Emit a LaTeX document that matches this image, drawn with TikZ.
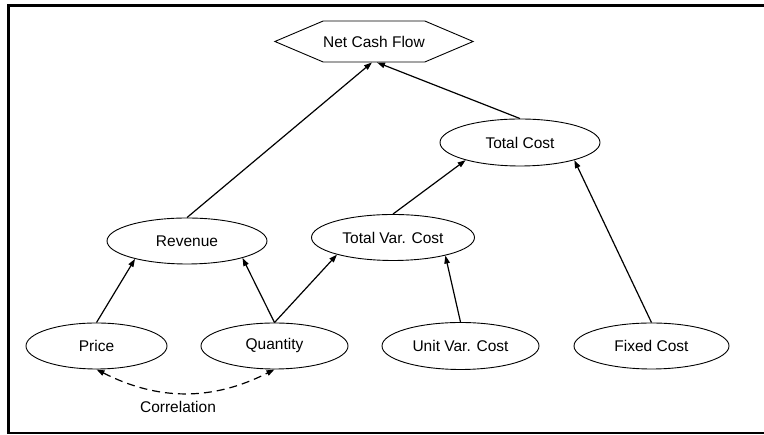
\documentclass[tikz,border=0pt]{standalone}
\usepackage{fontspec}
\setmainfont{Liberation Sans}
\usetikzlibrary{arrows.meta}
\usetikzlibrary{shapes.geometric}
\usetikzlibrary{shapes.symbols}

\begin{document}
\begin{tikzpicture}[x=1pt,y=1pt,
  var/.style={draw,ellipse,line width=0.9pt,inner sep=0pt,font=\fontsize{15.5}{18}\selectfont},
  link/.style={line width=1.2pt,-{Triangle[length=8pt,width=5.5pt]}},
  corr/.style={line width=1.2pt,dash pattern=on 8pt off 5pt,{Triangle[length=8pt,width=5.5pt]}-{Triangle[length=8pt,width=5.5pt]}}]

\useasboundingbox (0,0) rectangle (764,435);
\draw[line width=2.5pt] (764,429.5)--(8.5,429.5)--(8.5,2)--(764,2);

\node[draw,signal,signal to=west and east,signal pointer angle=46,line width=0.9pt,
  minimum width=198,minimum height=41,inner sep=0pt,font=\fontsize{15.5}{18}\selectfont] (N) at (374,393.5) {Net Cash Flow};

\node[var,minimum width=160,minimum height=47] (TC) at (520,292.5) {Total Cost};
\node[var,minimum width=160,minimum height=46] (R) at (187,194) {Revenue};
\node[var,minimum width=163,minimum height=46] (TVC) at (393,197.5) {Total Var. Cost};

\node[var,minimum width=141,minimum height=46] (P) at (96.5,89) {Price};
\node[var,minimum width=147,minimum height=46] (Q) at (274.5,89) {Quantity};
\node[var,minimum width=157,minimum height=47] (UVC) at (460.5,89) {Unit Var. Cost};
\node[var,minimum width=155,minimum height=46] (FC) at (651.5,89) {Fixed Cost};

\node[font=\fontsize{15.5}{18}\selectfont] (C) at (178,28) {Correlation};

\draw[link] (P.north)--(R.199);
\draw[link] (Q.north)--(R.343);
\draw[link] (Q.north)--(TVC.197);
\draw[link] (UVC.north)--(TVC.341);
\draw[link] (TVC.north)--(TC.198);
\draw[link] (FC.north)--(TC.342);
\draw[link] (R.north)--([xshift=-2pt]N.south);
\draw[link] (TC.north)--([xshift=3pt]N.south);

\draw[corr] (P.south) to[bend right=27] (Q.south);

\end{tikzpicture}
\end{document}
